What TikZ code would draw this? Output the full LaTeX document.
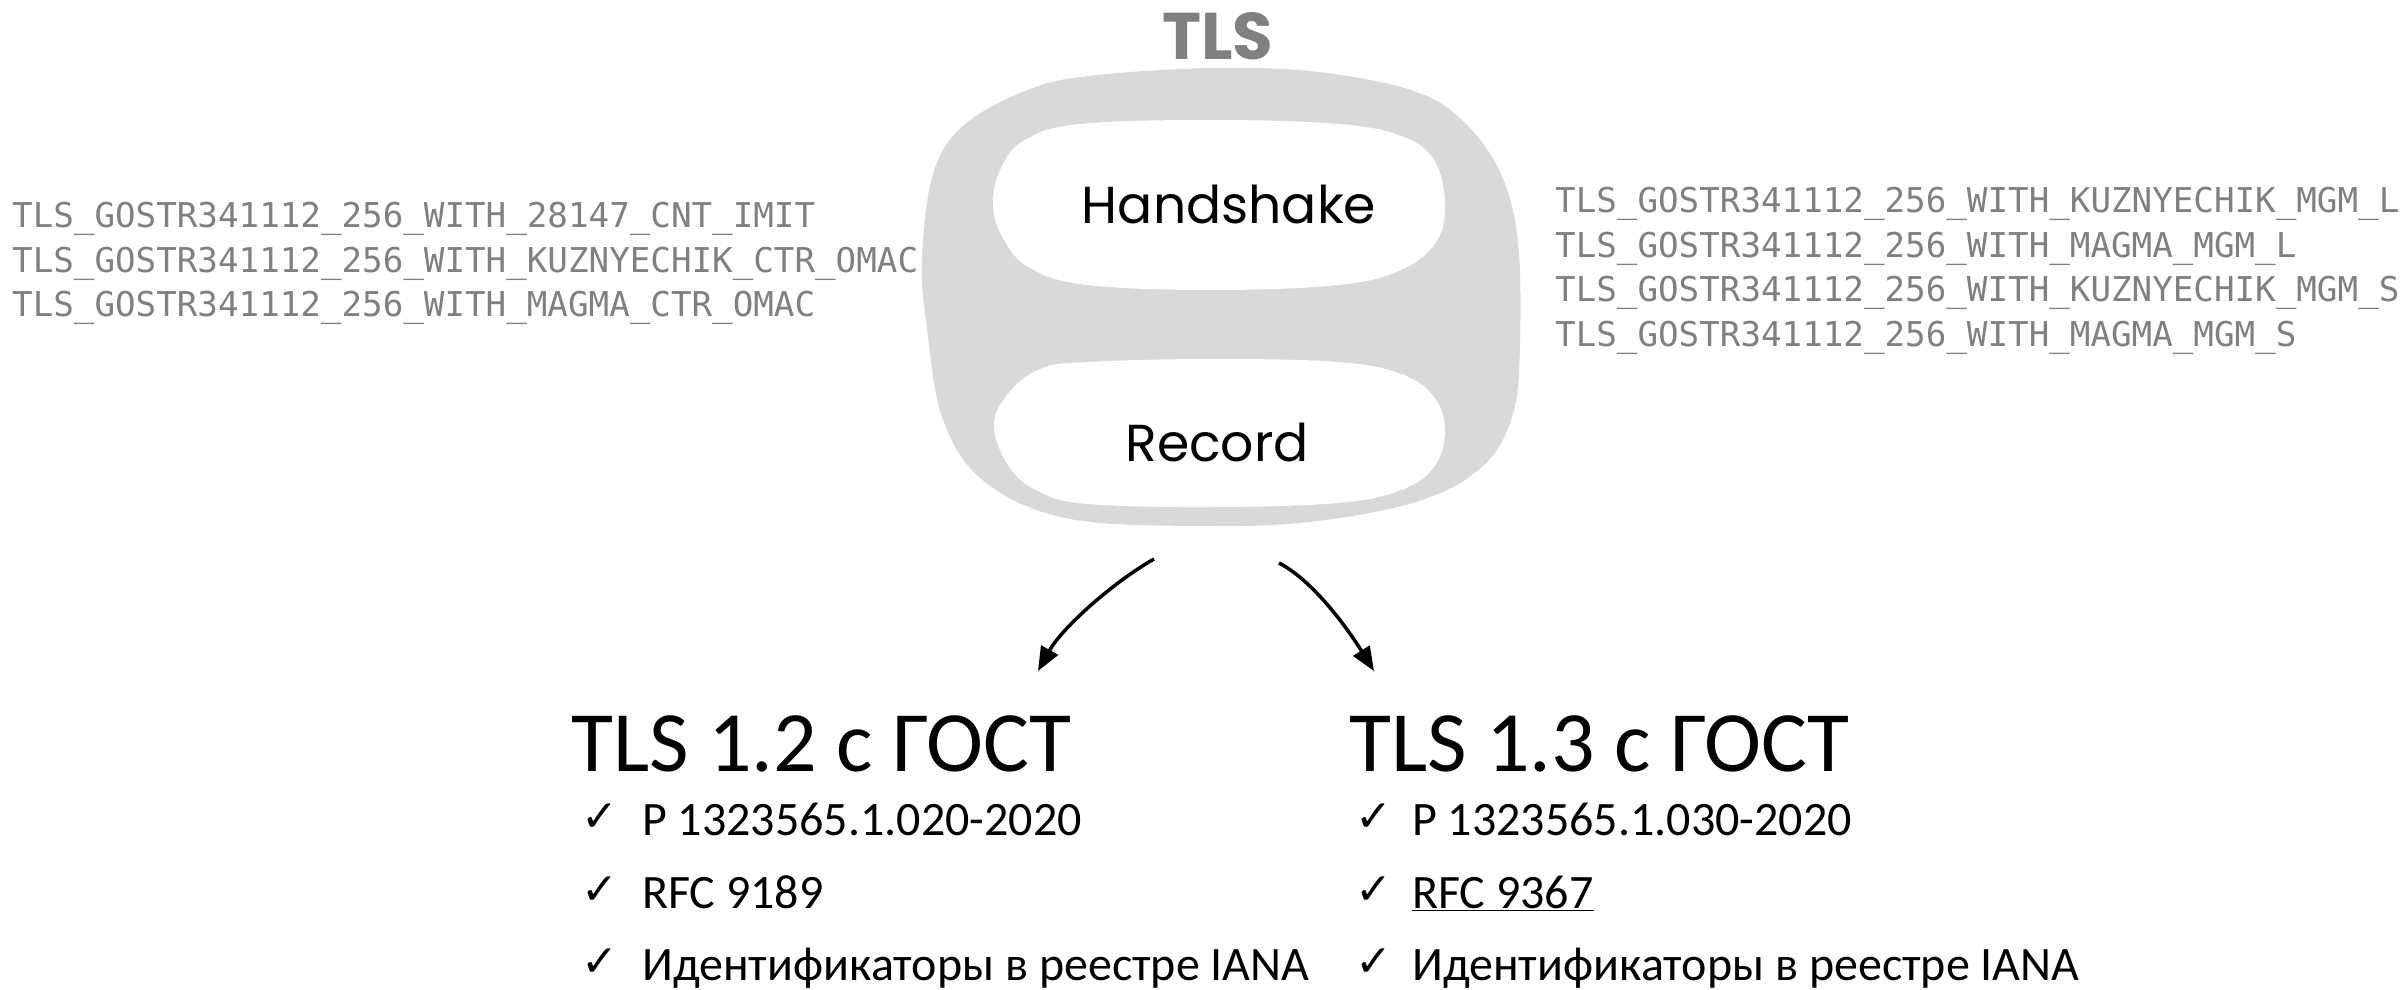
\documentclass[tikz,border=0pt]{standalone}
\usepackage{fontspec}
\setmainfont{Carlito}
\newfontfamily\handfont{Poppins}
\newfontfamily\codefont{DejaVu Sans Mono}
\newfontfamily\symfont{DejaVu Sans}
\usetikzlibrary{arrows.meta}
\definecolor{blobgray}{HTML}{D9D9D9}
\definecolor{textgray}{HTML}{808080}
\tikzset{
  suite/.style={anchor=base west, inner sep=0pt, text=textgray, font=\codefont\fontsize{34.2}{40}\selectfont},
  title/.style={anchor=base west, inner sep=0pt, font=\fontsize{86}{100}\selectfont},
  item/.style={anchor=base west, inner sep=0pt, font=\fontsize{48}{56}\selectfont},
  tick/.style={anchor=base west, inner sep=0pt, font=\symfont\fontsize{44}{50}\selectfont},
  layer/.style={inner sep=0pt, font=\handfont\fontsize{52}{60}\selectfont},
  branch/.style={line width=3.5pt, -{Triangle[length=24pt,width=19pt]}}
}

\begin{document}
\begin{tikzpicture}[x=1pt,y=-1pt]
			%%%%% START %%%%%
			\useasboundingbox (0,0) rectangle (2407,990);
			
			% protocol blob
			\draw[fill=blobgray, draw=none] plot[smooth cycle, tension=0.6] coordinates {
				(1213,68) (1318,72) (1414,91) (1464,122) (1501,174) (1518,242)
				(1520,345) (1513,414) (1484,465) (1422,500) (1318,521) (1213,526)
				(1070,519) (985,482) (943,420) (927,328) (922,259) (933,174)
				(963,126) (1025,91) (1088,76)};
			\draw[fill=white, draw=none] plot[smooth cycle, tension=0.65] coordinates {
				(1213,120) (1338,124) (1401,136) (1434,160) (1445,204) (1436,242)
				(1401,270) (1338,285) (1213,290) (1088,285) (1030,268) (1003,238)
				(993,204) (1001,168) (1025,140) (1080,124)};
			\draw[fill=white, draw=none] plot[smooth cycle, tension=0.65] coordinates {
				(1213,359) (1338,362) (1401,374) (1434,397) (1445,431) (1434,467)
				(1401,490) (1338,503) (1213,507) (1088,504) (1040,492) (1010,468)
				(994,427) (1007,395) (1040,369) (1088,362)};
			
			\node[layer, text=textgray, font=\handfont\bfseries\fontsize{66}{70}\selectfont] (tls) at (1218,36) {TLS};
			\node[layer] (handshake) at (1229,204) {Handshake};
			\node[layer] (record) at (1217,442) {Record};
			
			% cipher suites
			\node[suite] (s12a) at (12,227) {TLS\_GOSTR341112\_256\_WITH\_28147\_CNT\_IMIT};
			\node[suite] (s12b) at (12,272) {TLS\_GOSTR341112\_256\_WITH\_KUZNYECHIK\_CTR\_OMAC};
			\node[suite] (s12c) at (12,316) {TLS\_GOSTR341112\_256\_WITH\_MAGMA\_CTR\_OMAC};
			
			\node[suite] (s13a) at (1555,212) {TLS\_GOSTR341112\_256\_WITH\_KUZNYECHIK\_MGM\_L};
			\node[suite] (s13b) at (1555,257) {TLS\_GOSTR341112\_256\_WITH\_MAGMA\_MGM\_L};
			\node[suite] (s13c) at (1555,301) {TLS\_GOSTR341112\_256\_WITH\_KUZNYECHIK\_MGM\_S};
			\node[suite] (s13d) at (1555,346) {TLS\_GOSTR341112\_256\_WITH\_MAGMA\_MGM\_S};
			
			% versions
			\node[title] (v12) at (571,771) {TLS 1.2 с ГОСТ};
			\node[tick] (t12a) at (581,831) {✓};
			\node[item] (i12a) at (642,835) {Р 1323565.1.020-2020};
			\node[tick] (t12b) at (581,904) {✓};
			\node[item] (i12b) at (642,908) {RFC 9189};
			\node[tick] (t12c) at (581,976) {✓};
			\node[item] (i12c) at (642,980) {Идентификаторы в реестре IANA};
			
			\node[title] (v13) at (1349,771) {TLS 1.3 с ГОСТ};
			\node[tick] (t13a) at (1355,831) {✓};
			\node[item] (i13a) at (1412,835) {Р 1323565.1.030-2020};
			\node[tick] (t13b) at (1355,904) {✓};
			\node[item] (i13b) at (1412,908) {\underline{RFC 9367}};
			\node[tick] (t13c) at (1355,976) {✓};
			\node[item] (i13c) at (1412,980) {Идентификаторы в реестре IANA};
			
			% arrows
			\coordinate (lfrom) at (1154,559);
			\coordinate (lto) at (1038,671);
			\coordinate (rfrom) at (1279,563);
			\coordinate (rto) at (1374,671);
			\draw[branch] (lfrom) .. controls (1112,583) and (1062,628) .. (lto);
			\draw[branch] (rfrom) .. controls (1312,580) and (1346,626) .. (rto);
			
			%%%%% END %%%%%
\end{tikzpicture}
\end{document}
